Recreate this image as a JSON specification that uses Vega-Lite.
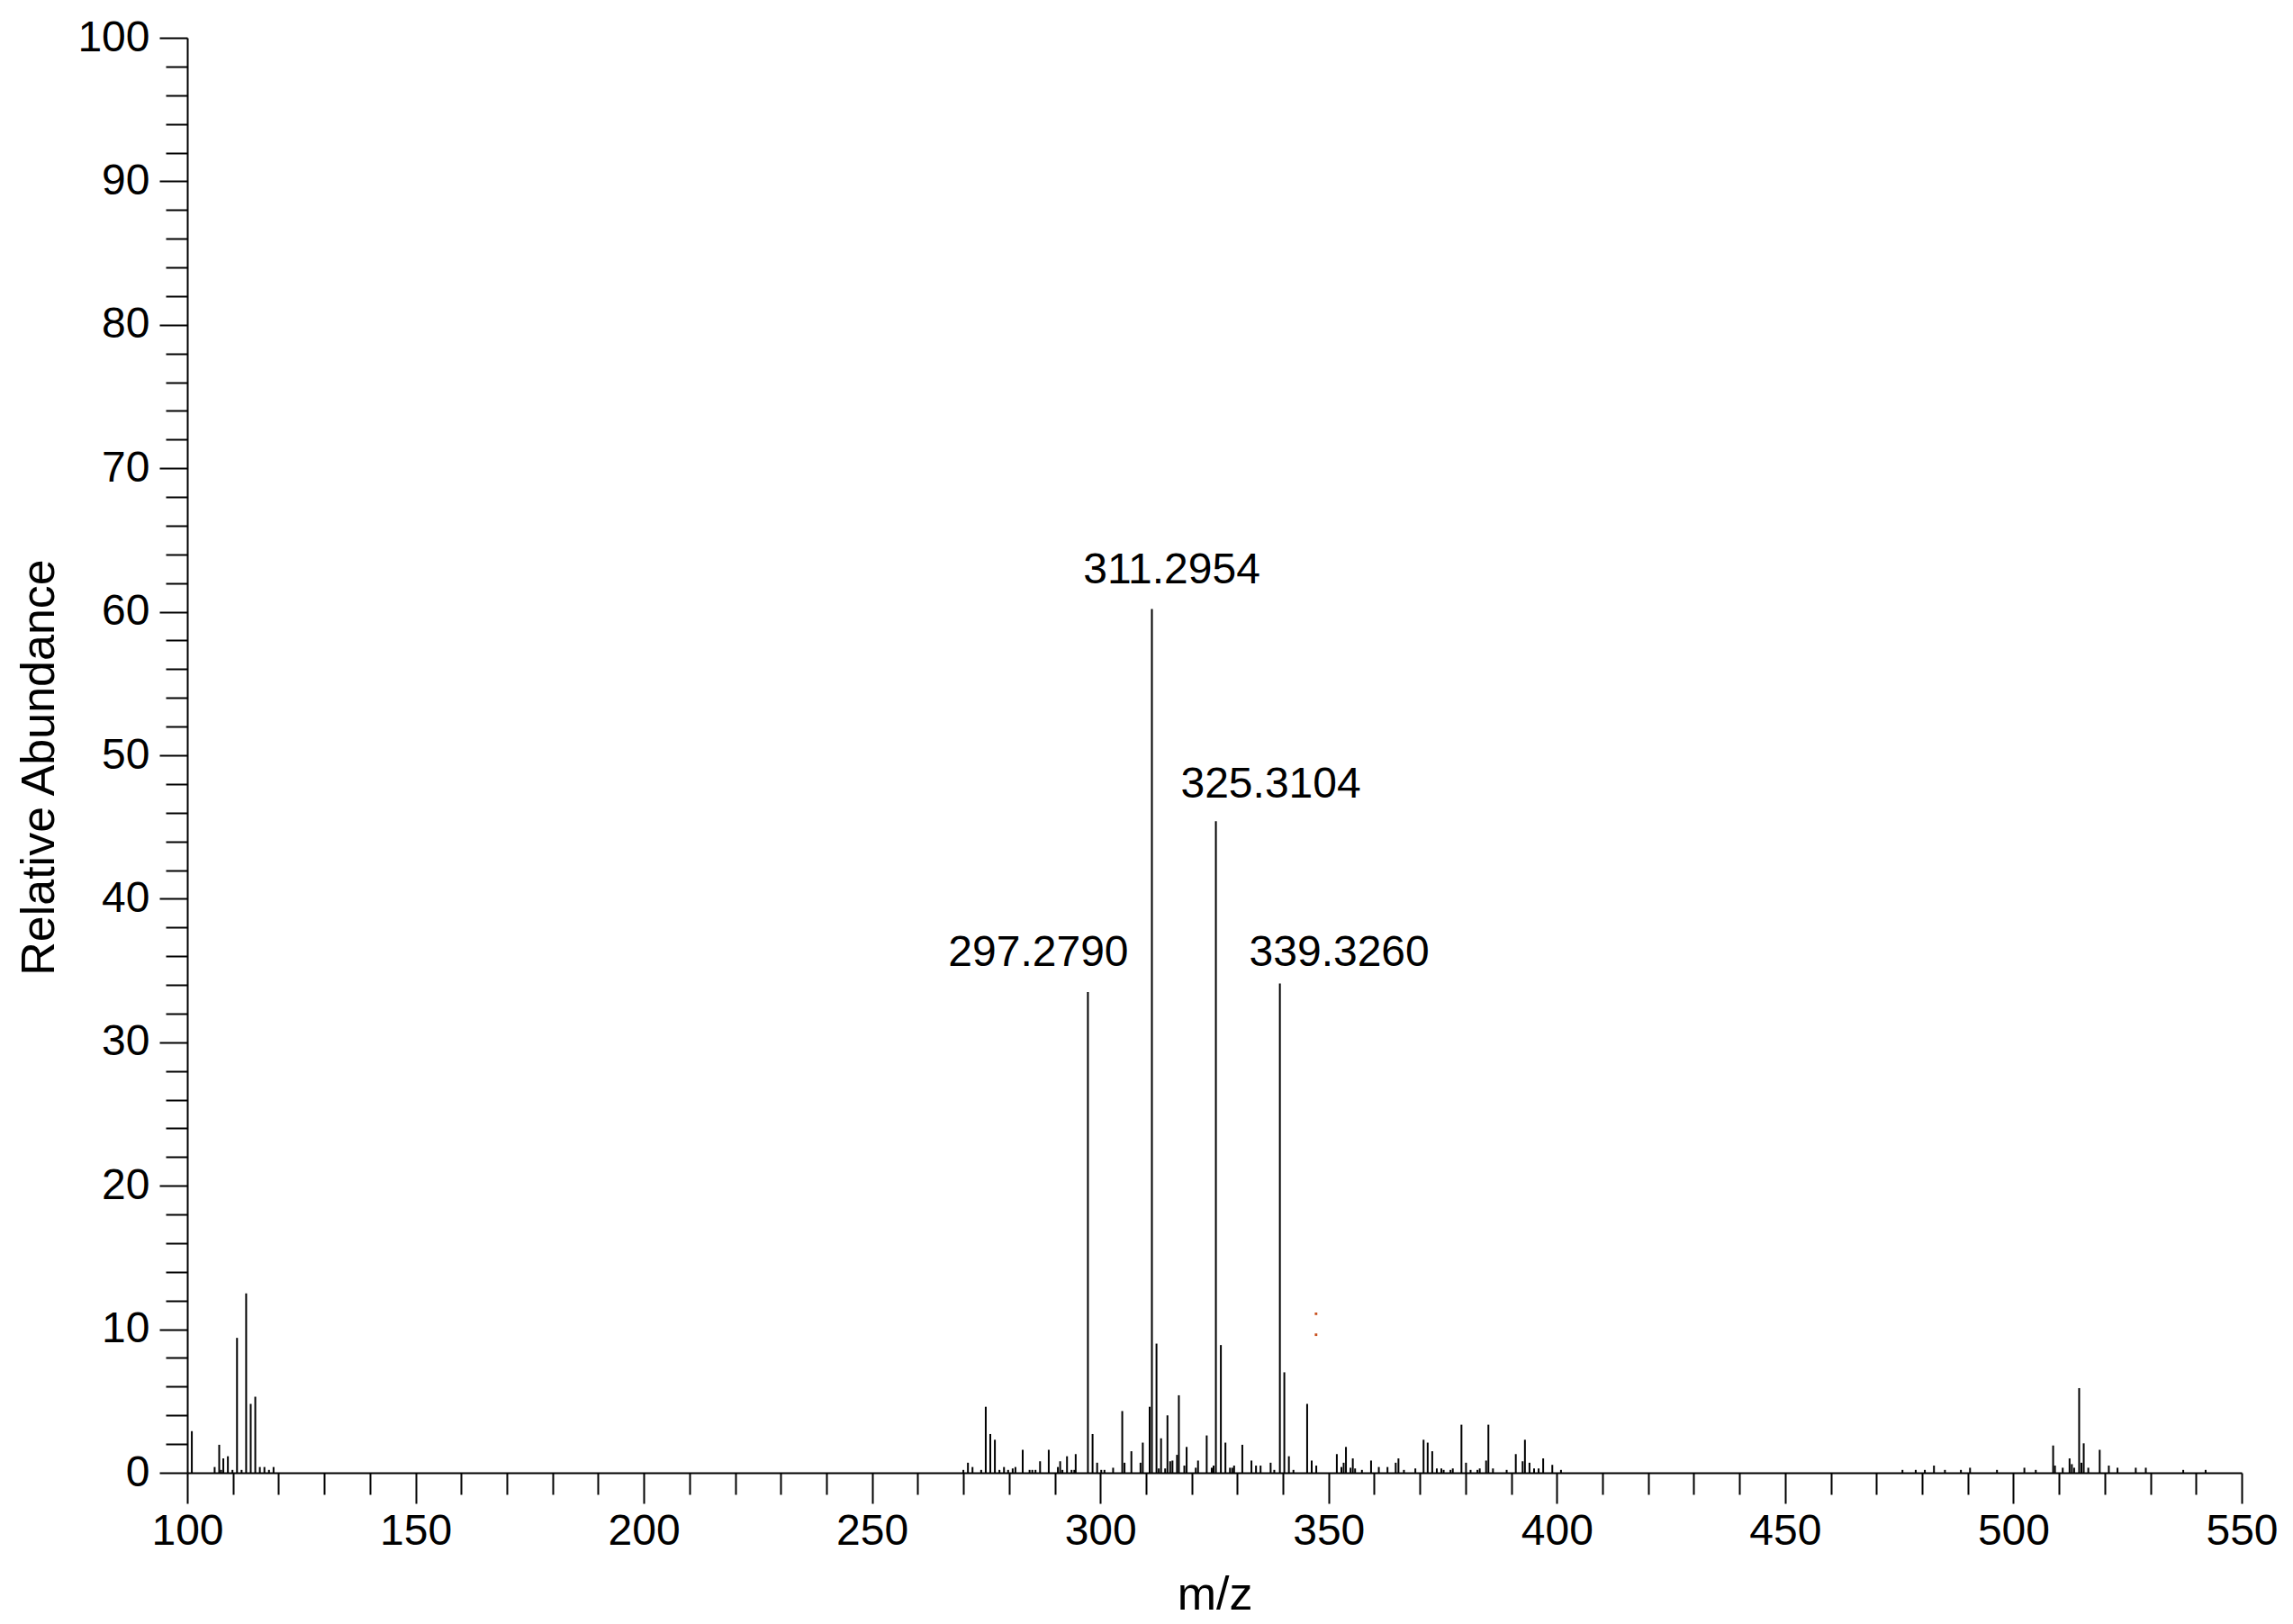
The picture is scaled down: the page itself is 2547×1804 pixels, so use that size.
{
  "$schema": "https://vega.github.io/schema/vega-lite/v6.json",
  "autosize": {"type": "none"},
  "padding": {"left": 208, "top": 42, "right": 57, "bottom": 168},
  "width": 2282,
  "height": 1594,
  "background": "white",
  "config": {
    "view": {"stroke": null},
    "font": "Liberation Sans",
    "axis": {
      "grid": false,
      "domainColor": "black",
      "domainWidth": 2,
      "tickColor": "black",
      "tickWidth": 2,
      "labelFont": "Liberation Sans",
      "labelFontSize": 48,
      "labelColor": "black",
      "labelFlush": false,
      "labelOverlap": false,
      "titleFont": "Liberation Sans",
      "titleFontSize": 52,
      "titleFontWeight": "normal",
      "titleColor": "black"
    }
  },
  "datasets": {
    "peaks": [
      {"mz": 101.0, "ab": 2.9}, {"mz": 106.0, "ab": 0.4}, {"mz": 107.0, "ab": 1.95}, {"mz": 107.4, "ab": 0.2},
      {"mz": 107.9, "ab": 1.0}, {"mz": 108.9, "ab": 1.15}, {"mz": 109.9, "ab": 0.2}, {"mz": 110.9, "ab": 9.4},
      {"mz": 111.9, "ab": 0.2}, {"mz": 112.9, "ab": 12.5}, {"mz": 113.9, "ab": 4.8}, {"mz": 114.9, "ab": 5.3},
      {"mz": 115.9, "ab": 0.4}, {"mz": 116.9, "ab": 0.4}, {"mz": 117.9, "ab": 0.2}, {"mz": 118.9, "ab": 0.4},
      {"mz": 270.0, "ab": 0.2}, {"mz": 271.0, "ab": 0.7}, {"mz": 272.0, "ab": 0.4}, {"mz": 273.9, "ab": 0.2},
      {"mz": 274.9, "ab": 4.6}, {"mz": 275.9, "ab": 2.7}, {"mz": 276.9, "ab": 2.3}, {"mz": 277.9, "ab": 0.2},
      {"mz": 278.9, "ab": 0.4}, {"mz": 279.8, "ab": 0.2}, {"mz": 280.8, "ab": 0.3}, {"mz": 281.4, "ab": 0.4},
      {"mz": 283.0, "ab": 1.6}, {"mz": 284.5, "ab": 0.2}, {"mz": 285.1, "ab": 0.2}, {"mz": 285.8, "ab": 0.2},
      {"mz": 286.8, "ab": 0.8}, {"mz": 288.7, "ab": 1.6}, {"mz": 290.7, "ab": 0.4}, {"mz": 291.2, "ab": 0.8},
      {"mz": 291.7, "ab": 0.2}, {"mz": 292.7, "ab": 1.15}, {"mz": 293.7, "ab": 0.2}, {"mz": 294.3, "ab": 0.2},
      {"mz": 294.6, "ab": 1.3}, {"mz": 297.279, "ab": 33.5}, {"mz": 298.3, "ab": 2.7}, {"mz": 299.3, "ab": 0.7},
      {"mz": 300.2, "ab": 0.2}, {"mz": 300.9, "ab": 0.2}, {"mz": 302.8, "ab": 0.35}, {"mz": 304.8, "ab": 4.3},
      {"mz": 305.3, "ab": 0.7}, {"mz": 306.8, "ab": 1.5}, {"mz": 308.8, "ab": 0.7}, {"mz": 309.3, "ab": 2.1},
      {"mz": 310.8, "ab": 4.6}, {"mz": 311.2954, "ab": 60.2}, {"mz": 312.3, "ab": 9.0}, {"mz": 312.8, "ab": 0.3},
      {"mz": 313.3, "ab": 2.4}, {"mz": 314.2, "ab": 0.3}, {"mz": 314.7, "ab": 4.0}, {"mz": 315.3, "ab": 0.8},
      {"mz": 315.8, "ab": 0.85}, {"mz": 316.8, "ab": 1.25}, {"mz": 317.2, "ab": 5.4}, {"mz": 318.4, "ab": 0.5},
      {"mz": 318.9, "ab": 1.8}, {"mz": 320.9, "ab": 0.35}, {"mz": 321.4, "ab": 0.85}, {"mz": 323.3, "ab": 2.6},
      {"mz": 324.4, "ab": 0.35}, {"mz": 324.8, "ab": 0.5}, {"mz": 325.3104, "ab": 45.4}, {"mz": 326.4, "ab": 8.9},
      {"mz": 327.4, "ab": 2.1}, {"mz": 328.4, "ab": 0.35}, {"mz": 328.9, "ab": 0.35}, {"mz": 329.3, "ab": 0.5},
      {"mz": 331.1, "ab": 1.95}, {"mz": 333.1, "ab": 0.85}, {"mz": 334.1, "ab": 0.5}, {"mz": 335.1, "ab": 0.5},
      {"mz": 337.3, "ab": 0.7}, {"mz": 338.1, "ab": 0.2}, {"mz": 339.326, "ab": 34.1}, {"mz": 340.3, "ab": 7.0},
      {"mz": 341.3, "ab": 1.15}, {"mz": 342.3, "ab": 0.2}, {"mz": 345.3, "ab": 4.8}, {"mz": 346.3, "ab": 0.85},
      {"mz": 347.3, "ab": 0.5}, {"mz": 351.8, "ab": 1.3}, {"mz": 352.8, "ab": 0.4}, {"mz": 353.3, "ab": 0.7},
      {"mz": 353.8, "ab": 1.8}, {"mz": 354.8, "ab": 0.35}, {"mz": 355.3, "ab": 1.0}, {"mz": 355.8, "ab": 0.3},
      {"mz": 357.3, "ab": 0.2}, {"mz": 359.3, "ab": 0.85}, {"mz": 361.0, "ab": 0.4}, {"mz": 362.9, "ab": 0.4},
      {"mz": 364.7, "ab": 0.7}, {"mz": 365.3, "ab": 1.0}, {"mz": 366.5, "ab": 0.2}, {"mz": 369.0, "ab": 0.3},
      {"mz": 370.8, "ab": 2.3}, {"mz": 371.7, "ab": 2.1}, {"mz": 372.7, "ab": 1.5}, {"mz": 373.7, "ab": 0.3},
      {"mz": 374.7, "ab": 0.3}, {"mz": 375.2, "ab": 0.2}, {"mz": 376.7, "ab": 0.2}, {"mz": 377.2, "ab": 0.3},
      {"mz": 379.1, "ab": 3.35}, {"mz": 380.1, "ab": 0.7}, {"mz": 381.1, "ab": 0.2}, {"mz": 382.6, "ab": 0.2},
      {"mz": 383.1, "ab": 0.3}, {"mz": 384.5, "ab": 0.85}, {"mz": 385.0, "ab": 3.35}, {"mz": 386.0, "ab": 0.3},
      {"mz": 389.0, "ab": 0.2}, {"mz": 391.0, "ab": 1.3}, {"mz": 392.5, "ab": 0.8}, {"mz": 393.0, "ab": 2.3},
      {"mz": 394.0, "ab": 0.7}, {"mz": 395.0, "ab": 0.3}, {"mz": 396.0, "ab": 0.3}, {"mz": 397.0, "ab": 1.0},
      {"mz": 399.0, "ab": 0.55}, {"mz": 400.9, "ab": 0.2},
      {"mz": 475.7, "ab": 0.2}, {"mz": 478.6, "ab": 0.2}, {"mz": 480.6, "ab": 0.2}, {"mz": 482.6, "ab": 0.5},
      {"mz": 485.0, "ab": 0.2}, {"mz": 488.5, "ab": 0.2}, {"mz": 490.5, "ab": 0.35}, {"mz": 496.4, "ab": 0.2},
      {"mz": 502.4, "ab": 0.35}, {"mz": 504.9, "ab": 0.2}, {"mz": 508.7, "ab": 1.9}, {"mz": 509.1, "ab": 0.5},
      {"mz": 510.8, "ab": 0.35}, {"mz": 512.3, "ab": 1.0}, {"mz": 512.8, "ab": 0.6}, {"mz": 513.3, "ab": 0.35},
      {"mz": 514.4, "ab": 5.9}, {"mz": 514.9, "ab": 0.7}, {"mz": 515.4, "ab": 2.05}, {"mz": 516.4, "ab": 0.35},
      {"mz": 518.9, "ab": 1.6}, {"mz": 520.9, "ab": 0.5}, {"mz": 522.8, "ab": 0.35}, {"mz": 526.8, "ab": 0.35},
      {"mz": 529.0, "ab": 0.35}, {"mz": 537.2, "ab": 0.2}, {"mz": 542.1, "ab": 0.2}
    ],
    "labels": [
      {"mz": 297.279, "ab": 33.5, "text": "297.2790"},
      {"mz": 311.2954, "ab": 60.2, "text": "311.2954"},
      {"mz": 325.3104, "ab": 45.4, "text": "325.3104"},
      {"mz": 339.326, "ab": 34.1, "text": "339.3260"}
    ],
    "artifact": [
      {"mz": 347.25, "ab": 11.08},
      {"mz": 347.25, "ab": 9.62}
    ]
  },
  "layer": [
    {
      "data": {"name": "peaks"},
      "mark": {"type": "rule", "color": "black", "strokeWidth": 2},
      "encoding": {
        "x": {
          "field": "mz", "type": "quantitative",
          "scale": {"domain": [100, 550], "nice": false, "zero": false},
          "axis": {
            "title": "m/z",
            "values": [100,110,120,130,140,150,160,170,180,190,200,210,220,230,240,250,260,270,280,290,300,310,320,330,340,350,360,370,380,390,400,410,420,430,440,450,460,470,480,490,500,510,520,530,540,550],
            "tickCount": 200,
            "format": "d",
            "labelExpr": "datum.value % 50 === 0 ? datum.label : ''",
            "tickSize": {"condition": {"test": "datum.value % 50 === 0", "value": 34}, "value": 24},
            "labelOverlap": false,
            "labelPadding": 7,
            "titlePadding": 21
          }
        },
        "y": {
          "field": "ab", "type": "quantitative",
          "scale": {"domain": [0, 100], "nice": false},
          "axis": {
            "title": "Relative Abundance",
            "values": [0,2,4,6,8,10,12,14,16,18,20,22,24,26,28,30,32,34,36,38,40,42,44,46,48,50,52,54,56,58,60,62,64,66,68,70,72,74,76,78,80,82,84,86,88,90,92,94,96,98,100],
            "tickCount": 200,
            "format": "d",
            "labelExpr": "datum.value % 10 === 0 ? datum.label : ''",
            "tickSize": {"condition": {"test": "datum.value % 10 === 0", "value": 31}, "value": 24},
            "labelOverlap": false,
            "labelPadding": 11,
            "titlePadding": 15,
            "titleY": 810
          }
        },
        "y2": {"datum": 0}
      }
    },
    {
      "data": {"name": "labels"},
      "transform": [{"filter": "datum.text === '297.2790'"}],
      "mark": {"type": "text", "font": "Liberation Sans", "fontSize": 48, "color": "black", "align": "center", "baseline": "alphabetic", "dx": -55, "dy": -29},
      "encoding": {"x": {"field": "mz", "type": "quantitative"}, "y": {"field": "ab", "type": "quantitative"}, "text": {"field": "text"}}
    },
    {
      "data": {"name": "labels"},
      "transform": [{"filter": "datum.text === '311.2954'"}],
      "mark": {"type": "text", "font": "Liberation Sans", "fontSize": 48, "color": "black", "align": "center", "baseline": "alphabetic", "dx": 22, "dy": -28},
      "encoding": {"x": {"field": "mz", "type": "quantitative"}, "y": {"field": "ab", "type": "quantitative"}, "text": {"field": "text"}}
    },
    {
      "data": {"name": "labels"},
      "transform": [{"filter": "datum.text === '325.3104'"}],
      "mark": {"type": "text", "font": "Liberation Sans", "fontSize": 48, "color": "black", "align": "center", "baseline": "alphabetic", "dx": 61, "dy": -26},
      "encoding": {"x": {"field": "mz", "type": "quantitative"}, "y": {"field": "ab", "type": "quantitative"}, "text": {"field": "text"}}
    },
    {
      "data": {"name": "labels"},
      "transform": [{"filter": "datum.text === '339.3260'"}],
      "mark": {"type": "text", "font": "Liberation Sans", "fontSize": 48, "color": "black", "align": "center", "baseline": "alphabetic", "dx": 66, "dy": -19},
      "encoding": {"x": {"field": "mz", "type": "quantitative"}, "y": {"field": "ab", "type": "quantitative"}, "text": {"field": "text"}}
    },
    {
      "data": {"name": "artifact"},
      "mark": {"type": "square", "color": "#c8501e", "filled": true, "size": 8, "opacity": 1},
      "encoding": {"x": {"field": "mz", "type": "quantitative"}, "y": {"field": "ab", "type": "quantitative"}}
    }
  ]
}
